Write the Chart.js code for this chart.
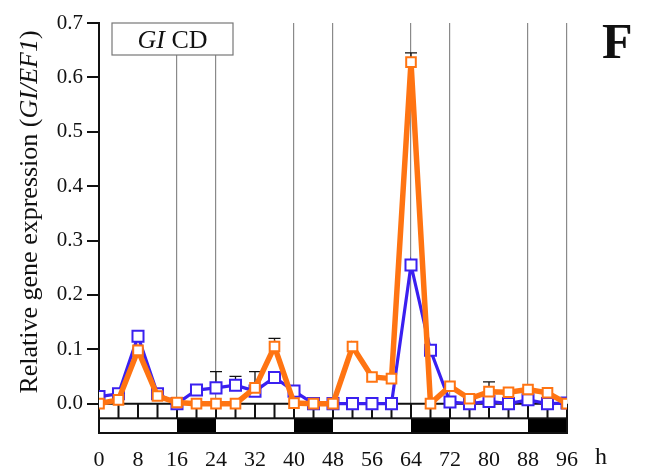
<!DOCTYPE html>
<html>
<head>
<meta charset="utf-8">
<title>GI CD</title>
<script src="https://cdn.jsdelivr.net/npm/chart.js@4"></script>
<style>
  html, body { margin: 0; padding: 0; background: #fff; }
  #wrap { width: 652px; height: 475px; }
</style>
</head>
<body>
<div id="wrap"><canvas id="giChart"></canvas></div>
<script>
// sampling times (h)
const hours = [0, 4, 8, 12, 16, 20, 24, 28, 32, 36, 40, 44, 48, 52, 56, 60, 64, 68, 72, 76, 80, 84, 88, 92, 96];

// relative expression GI/EF1
const orangeValues = [0.000, 0.007, 0.098, 0.014, 0.002, 0.000, 0.000, 0.000, 0.029, 0.105, 0.001, 0.000, 0.000,
                      0.105, 0.049, 0.046, 0.628, 0.000, 0.032, 0.009, 0.022, 0.021, 0.026, 0.020, 0.000];
const blueValues = [0.013, 0.018, 0.124, 0.018, 0.000, 0.025, 0.029, 0.034, 0.023, 0.048, 0.023, 0.000, 0.000,
                    0.000, 0.000, 0.000, 0.255, 0.098, 0.003, 0.000, 0.004, 0.000, 0.007, 0.000, 0.001];

// upper ends of the error bars (null = none drawn)
const orangeErrTop = [null, null, null, null, null, null, null, null, null, 0.120, null, null, null,
                      null, null, null, 0.645, null, null, null, 0.040, null, null, null, null];
const blueErrTop = [null, null, null, null, null, null, 0.059, 0.050, 0.059, null, 0.032, null, null,
                    null, null, null, null, null, null, null, null, null, null, null, null];

// vertical guide lines and dark periods (h)
const gridHours = [16, 24, 40, 48, 64, 72, 88, 96];
const darkPeriods = [[16, 24], [40, 48], [64, 72], [88, 96]];

const serif = "'Liberation Serif', 'Times New Roman', serif";
const ORANGE = '#ff7412';
const BLUE = '#3a20f0';

function toPoints(vals) {
    return hours.map((h, i) => ({ x: h, y: vals[i] }));
}

const extrasPlugin = {
    id: 'extras',
    beforeDatasetsDraw(chart) {
        const { ctx, chartArea, scales: { x, y } } = chart;
        ctx.save();

        // error bars (upper only)
        ctx.strokeStyle = '#111';
        ctx.lineWidth = 1.3;
        [[blueValues, blueErrTop], [orangeValues, orangeErrTop]].forEach(([vals, tops]) => {
            tops.forEach((top, i) => {
                if (top === null) return;
                const px = x.getPixelForValue(hours[i]);
                const py0 = y.getPixelForValue(vals[i]);
                const py1 = y.getPixelForValue(top);
                ctx.beginPath();
                ctx.moveTo(px, py0);
                ctx.lineTo(px, py1);
                ctx.moveTo(px - 6, py1);
                ctx.lineTo(px + 6, py1);
                ctx.stroke();
            });
        });

        // zero line with 4 h ticks
        const y0 = y.getPixelForValue(0);
        const barTop = y.getPixelForValue(-0.027);
        const barBottom = chartArea.bottom;
        const xl = x.getPixelForValue(0);
        const xr = x.getPixelForValue(96);
        ctx.strokeStyle = '#111';
        ctx.lineWidth = 2;
        ctx.beginPath();
        ctx.moveTo(xl, y0);
        ctx.lineTo(xr, y0);
        hours.forEach(h => {
            const px = x.getPixelForValue(h);
            ctx.moveTo(px, y0);
            ctx.lineTo(px, barTop);
        });
        ctx.stroke();

        // light / dark bar
        ctx.fillStyle = '#fff';
        ctx.fillRect(xl, barTop, xr - xl, barBottom - barTop);
        ctx.fillStyle = '#000';
        darkPeriods.forEach(([a, b]) => {
            const pa = x.getPixelForValue(a);
            const pb = x.getPixelForValue(b);
            ctx.fillRect(pa, barTop, pb - pa, barBottom - barTop);
        });
        ctx.strokeRect(xl, barTop, xr - xl, barBottom - barTop);

        // label box
        const bx = chartArea.left + 13, by = chartArea.top, bw = 121, bh = 32;
        ctx.fillStyle = '#fff';
        ctx.fillRect(bx, by, bw, bh);
        ctx.strokeStyle = '#777';
        ctx.lineWidth = 1.2;
        ctx.strokeRect(bx, by, bw, bh);
        ctx.fillStyle = '#111';
        ctx.textBaseline = 'alphabetic';
        ctx.font = 'italic 26px ' + serif;
        const w1 = ctx.measureText('GI').width;
        ctx.font = '26px ' + serif;
        const w2 = ctx.measureText(' CD').width;
        let tx = bx + (bw - w1 - w2) / 2;
        ctx.font = 'italic 26px ' + serif;
        ctx.fillText('GI', tx, by + 25);
        ctx.font = '26px ' + serif;
        ctx.fillText(' CD', tx + w1, by + 25);

        ctx.restore();
    },
    afterDraw(chart) {
        const { ctx } = chart;
        ctx.save();
        ctx.fillStyle = '#111';

        // y axis title, mixed upright / italic
        const parts = [['Relative gene expression (', ''], ['GI/EF1', 'italic '], [')', '']];
        const size = 26;
        let total = 0;
        parts.forEach(p => { ctx.font = p[1] + size + 'px ' + serif; total += ctx.measureText(p[0]).width; });
        ctx.translate(37, 212);
        ctx.rotate(-Math.PI / 2);
        let cx = -total / 2;
        ctx.textBaseline = 'alphabetic';
        parts.forEach(p => {
            ctx.font = p[1] + size + 'px ' + serif;
            ctx.fillText(p[0], cx, 0);
            cx += ctx.measureText(p[0]).width;
        });
        ctx.setTransform(1, 0, 0, 1, 0, 0);

        // unit and panel letter
        ctx.font = '24px ' + serif;
        ctx.textAlign = 'center';
        ctx.textBaseline = 'middle';
        ctx.fillText('h', 601, 458);
        ctx.font = 'bold 50px ' + serif;
        ctx.textAlign = 'left';
        ctx.textBaseline = 'alphabetic';
        ctx.fillText('F', 602, 58);
        ctx.restore();
    }
};

new Chart(document.getElementById('giChart'), {
    type: 'line',
    data: {
        datasets: [
            {
                label: 'orange',
                data: toPoints(orangeValues),
                borderColor: ORANGE,
                borderWidth: 5.5,
                pointStyle: 'rect',
                pointRadius: 6.8,
                pointBorderWidth: 2,
                pointBorderColor: ORANGE,
                pointBackgroundColor: '#fff',
                tension: 0
            },
            {
                label: 'blue',
                data: toPoints(blueValues),
                borderColor: BLUE,
                borderWidth: 3.2,
                pointStyle: 'rect',
                pointRadius: 7.8,
                pointBorderWidth: 2,
                pointBorderColor: BLUE,
                pointBackgroundColor: '#fff',
                tension: 0
            }
        ]
    },
    options: {
        responsive: true,
        maintainAspectRatio: false,
        animation: false,
        events: [],
        layout: { padding: { top: 23, right: 85, left: 0, bottom: 0 } },
        plugins: {
            legend: { display: false },
            tooltip: { enabled: false }
        },
        scales: {
            x: {
                type: 'linear',
                min: 0,
                max: 96,
                afterFit: scale => { scale.height = 42; },
                ticks: {
                    stepSize: 8,
                    padding: 14,
                    color: '#111',
                    font: { family: serif, size: 22 },
                    maxRotation: 0
                },
                grid: {
                    drawTicks: false,
                    color: ctx => gridHours.includes(ctx.tick && ctx.tick.value) ? '#8a8a8a' : 'rgba(0,0,0,0)',
                    lineWidth: 1.2
                },
                border: { display: false }
            },
            y: {
                min: -0.054,
                max: 0.7,
                afterFit: scale => { scale.width = 99; },
                afterBuildTicks: scale => {
                    scale.ticks = scale.ticks.filter(t => t.value > -0.001);
                },
                ticks: {
                    stepSize: 0.1,
                    padding: 4,
                    color: '#111',
                    font: { family: serif, size: 21 },
                    callback: v => Math.abs(v).toFixed(1)
                },
                grid: {
                    drawOnChartArea: false,
                    tickLength: 12,
                    color: '#111',
                    lineWidth: 2
                },
                border: { color: '#111', width: 2 }
            }
        }
    },
    plugins: [extrasPlugin]
});
</script>
</body>
</html>
